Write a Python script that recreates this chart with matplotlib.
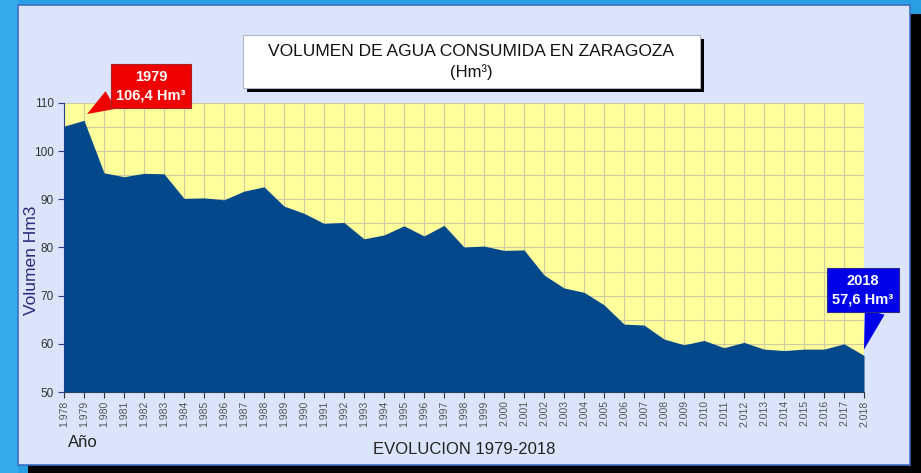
import matplotlib
matplotlib.use("Agg")
import matplotlib.pyplot as plt
from matplotlib.patches import Rectangle

plt.rcParams['font.family'] = ['Liberation Sans', 'DejaVu Sans']

years = list(range(1978, 2019))
volumen = [105.2, 106.4, 95.5, 94.7, 95.4, 95.3, 90.2, 90.3, 89.9, 91.7,
           92.6, 88.6, 87.1, 85.0, 85.2, 81.8, 82.6, 84.5, 82.4, 84.6,
           80.1, 80.3, 79.4, 79.5, 74.3, 71.6, 70.7, 68.1, 64.1, 63.9,
           61.0, 59.8, 60.7, 59.2, 60.3, 58.9, 58.6, 58.9, 58.9, 60.0,
           57.6]
tick_labels = [f"{y // 1000}.{y % 1000:03d}" for y in years]

W, H = 921, 473
fig = plt.figure(figsize=(W / 100, H / 100), dpi=100)
fig.patch.set_facecolor('#2a9ee3')

def px(x0, y0, x1, y1):
    # pixel box -> figure fraction (left, bottom, width, height)
    return x0 / W, 1 - y1 / H, (x1 - x0) / W, (y1 - y0) / H

# lighter strip on the left of the outer background
l, b, w, h = px(0, 0, 18, 473)
fig.add_artist(Rectangle((l, b), w, h, transform=fig.transFigure, fc='#36aaea', ec='none', zorder=-21))

# panel with black shadow
l, b, w, h = px(28, 14, 921, 473)
fig.add_artist(Rectangle((l, b), w, h, transform=fig.transFigure, fc='black', ec='none', zorder=-20))
l, b, w, h = px(18, 5, 910, 465)
fig.add_artist(Rectangle((l, b), w, h, transform=fig.transFigure, fc='#dbe4fa', ec='#3b6fc4', lw=1.2,
                         zorder=-19))

# title box with shadow
l, b, w, h = px(247, 39, 704, 92)
fig.add_artist(Rectangle((l, b), w, h, transform=fig.transFigure, fc='black', ec='none', zorder=-18))
l, b, w, h = px(243, 35, 700, 88)
fig.add_artist(Rectangle((l, b), w, h, transform=fig.transFigure, fc='white', ec='#b0b8c8', lw=0.8,
                         zorder=-17))
fig.text(471 / W, 1 - 52 / H, "VOLUMEN DE AGUA CONSUMIDA EN ZARAGOZA", ha='center', va='center',
         fontsize=12.5, color='#111111')
fig.text(471 / W, 1 - 72 / H, "(Hm³)", ha='center', va='center', fontsize=12, color='#111111')

ax = fig.add_axes(px(64, 103, 864, 392))
ax.set_facecolor('#ffff9c')
ax.fill_between(years, volumen, 50, color='#03488a', lw=0, zorder=3)
ax.set_xlim(1978, 2018)
ax.set_ylim(50, 110)

ax.set_xticks(years)
ax.set_xticklabels(tick_labels, rotation=90, fontsize=7.5, color='#555555')
ax.set_yticks(range(50, 111, 10))
ax.tick_params(axis='y', labelsize=8.5, colors='#333333', length=4, color='#2b3f8a')
ax.tick_params(axis='x', length=4, color='#333333', pad=2)
ax.set_yticks(range(50, 111, 5), minor=True)
ax.tick_params(axis='y', which='minor', length=0)
ax.grid(True, which='major', axis='x', color='#cfcba0', lw=0.8)
ax.grid(True, which='both', axis='y', color='#cfcba0', lw=0.8)
ax.set_axisbelow(True)
for s in ['top', 'right']:
    ax.spines[s].set_visible(False)
ax.spines['left'].set_color('#2b3f8a')
ax.spines['bottom'].set_color('#444444')

fig.text(32 / W, 1 - 260 / H, "Volumen Hm3", rotation=90, ha='center', va='center',
         fontsize=12.5, color='#2a2a7c')
fig.text(68 / W, 1 - 442 / H, "Año", ha='left', va='center', fontsize=12, color='#222222')
fig.text(464 / W, 1 - 449 / H, "EVOLUCION 1979-2018", ha='center', va='center', fontsize=12, color='#222222')

# callouts
ax.annotate("1979\n106,4 Hm³", xy=(1979.15, 107.7), xycoords='data',
            xytext=(151 / W, 1 - 86 / H), textcoords='figure fraction',
            ha='center', va='center', fontsize=10.5, fontweight='bold', color='white',
            linespacing=1.45, annotation_clip=False, zorder=10,
            bbox=dict(boxstyle='square,pad=0.35', fc='#ee0000', ec='#aa2222', lw=0.8),
            arrowprops=dict(arrowstyle='wedge,tail_width=1.4', fc='#ee0000', ec='none',
                            shrinkA=0, shrinkB=0, relpos=(0.02, 0.2)))
ax.annotate("2018\n57,6 Hm³", xy=(2018, 58.8), xycoords='data',
            xytext=(863 / W, 1 - 290 / H), textcoords='figure fraction',
            ha='center', va='center', fontsize=10.5, fontweight='bold', color='white',
            linespacing=1.45, annotation_clip=False, zorder=10,
            bbox=dict(boxstyle='square,pad=0.35', fc='#0000e8', ec='#2a2a90', lw=0.8),
            arrowprops=dict(arrowstyle='wedge,tail_width=1.4', fc='#0000e8', ec='none',
                            shrinkA=0, shrinkB=0, relpos=(0.72, 0.02)))

fig.savefig("out.png", dpi=100, facecolor=fig.get_facecolor())
